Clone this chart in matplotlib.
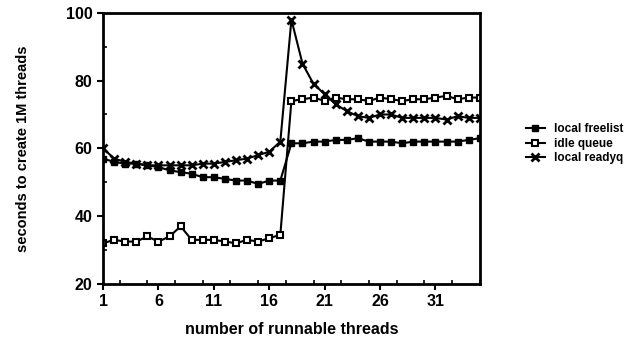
from matplotlib import pyplot as plt
from matplotlib.ticker import MultipleLocator
import matplotlib

threads = list(range(1, 36))

local_freelist = [57, 56, 55.5, 55.5, 55, 54.5, 53.5, 53, 52.5, 51.5,
                  51.5, 51, 50.5, 50.5, 49.5, 50.5, 50.5, 61.5, 61.5, 62,
                  62, 62.5, 62.5, 63, 62, 62, 62, 61.5, 62, 62,
                  62, 62, 62, 62.5, 63]
idle_queue = [32, 33, 32.5, 32.5, 34, 32.5, 34, 37, 33, 33,
              33, 32.5, 32, 33, 32.5, 33.5, 34.5, 74, 74.5, 75,
              74, 75, 74.5, 74.5, 74, 75, 74.5, 74, 74.5, 74.5,
              75, 75.5, 74.5, 75, 75]
local_readyq = [60, 57, 56, 55.5, 55, 55, 55, 55, 55, 55.5,
                55.5, 56, 56.5, 57, 58, 59, 62, 98, 85, 79,
                76, 73, 71, 69.5, 69, 70, 70, 69, 69, 69,
                69, 68.5, 69.5, 69, 69]

x_ticks = [1, 6, 11, 16, 21, 26, 31]
y_ticks = [20, 40, 60, 80, 100]


def plot_threads():
    matplotlib.rc("font", family="Liberation Sans", weight="bold", size=10)
    fig = plt.figure(figsize=(6.44, 3.38), dpi=100)
    ax = fig.add_axes([0.16, 0.16, 0.585, 0.802])

    ax.plot(threads, local_freelist, color="black", lw=1.5, marker="s",
            ms=5, mfc="black", mec="black", label="local freelist")
    ax.plot(threads, idle_queue, color="black", lw=1.5, marker="s",
            ms=5, mfc="white", mec="black", mew=1.5, label="idle queue")
    ax.plot(threads, local_readyq, color="black", lw=1.5, marker="x",
            ms=6, mew=2, label="local readyq")

    ax.set_xlim(1, 35)
    ax.set_ylim(20, 100)
    ax.set_xticks(x_ticks)
    ax.set_yticks(y_ticks)
    ax.xaxis.set_minor_locator(MultipleLocator(2.5))
    ax.yaxis.set_minor_locator(MultipleLocator(10))
    ax.tick_params(which="major", direction="out", length=4, width=1.5,
                   labelsize=11.5, top=False, right=False)
    ax.tick_params(which="minor", direction="in", length=3, width=1.2,
                   top=False, right=False)
    for s in ax.spines.values():
        s.set_linewidth(2)

    ax.set_xlabel("number of runnable threads", fontsize=11.5,
                  fontweight="bold", labelpad=9)
    ax.set_ylabel("seconds to create 1M threads", fontsize=10.5,
                  fontweight="bold", labelpad=26)

    fig.legend(loc="center left", bbox_to_anchor=(0.8, 0.575), frameon=False,
               fontsize=8.5, handlelength=1.6, handletextpad=0.8,
               labelspacing=0.2)

    plt.savefig("out.png", dpi=100)


if __name__ == "__main__":
    plot_threads()
